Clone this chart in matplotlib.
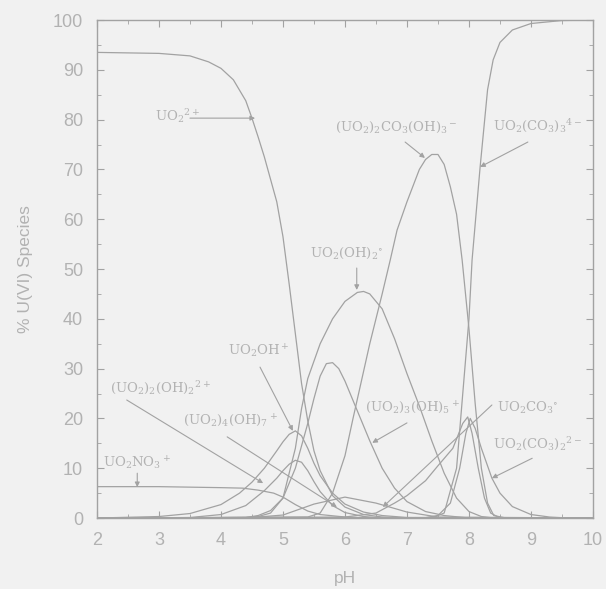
import numpy as np
import matplotlib.pyplot as plt
from matplotlib.ticker import MultipleLocator

# uranyl speciation vs pH, values in % of total U(VI)
ph_uo2 = [2.0, 3.0, 3.5, 3.8, 4.0, 4.2, 4.4, 4.5, 4.6, 4.7, 4.8, 4.9, 5.0, 5.1, 5.2, 5.3, 5.4, 5.5, 5.6, 5.8, 6.0, 6.3, 6.6, 7.0, 10.0]
uo2 = [93.5, 93.3, 92.8, 91.6, 90.3, 88.0, 83.8, 80.3, 76.5, 72.5, 68.0, 63.5, 56.5, 47.0, 37.0, 27.0, 19.5, 13.5, 9.5, 4.5, 2.2, 0.7, 0.2, 0.0, 0.0]

ph_no3 = [2.0, 3.0, 4.0, 4.35, 4.6, 4.85, 5.0, 5.2, 5.4, 5.6, 6.0, 6.5, 10.0]
uo2no3 = [6.3, 6.3, 6.1, 6.0, 5.6, 5.0, 4.2, 2.7, 1.4, 0.7, 0.2, 0.0, 0.0]

ph_oh = [2.0, 3.0, 3.5, 4.0, 4.3, 4.5, 4.7, 4.9, 5.0, 5.1, 5.2, 5.3, 5.4, 5.5, 5.6, 5.8, 6.0, 6.3, 6.6, 7.0, 10.0]
uo2oh = [0.0, 0.3, 0.9, 2.7, 5.0, 7.2, 10.0, 13.5, 15.3, 16.8, 17.5, 16.5, 14.0, 11.0, 8.5, 5.0, 2.8, 1.2, 0.5, 0.1, 0.0]

ph_22 = [2.0, 3.5, 4.0, 4.4, 4.7, 4.9, 5.0, 5.1, 5.2, 5.3, 5.4, 5.5, 5.6, 5.8, 6.0, 6.3, 6.6, 10.0]
uo2_2oh2 = [0.0, 0.1, 0.7, 2.5, 5.5, 8.0, 9.5, 10.8, 11.6, 11.2, 9.5, 7.3, 5.3, 2.5, 1.1, 0.3, 0.0, 0.0]

ph_35 = [2.0, 4.4, 4.6, 4.8, 5.0, 5.2, 5.4, 5.5, 5.6, 5.7, 5.8, 5.9, 6.0, 6.2, 6.4, 6.6, 6.8, 7.0, 7.3, 7.6, 8.0, 10.0]
uo2_3oh5 = [0.0, 0.1, 0.5, 1.5, 4.0, 10.0, 19.0, 24.0, 28.5, 31.0, 31.2, 30.0, 27.5, 21.5, 15.5, 10.0, 6.0, 3.3, 1.3, 0.5, 0.0, 0.0]

ph_47 = [2.0, 4.5, 5.0, 5.5, 6.0, 6.5, 7.0, 7.5, 10.0]
uo2_4oh7 = [0.0, 0.1, 0.6, 2.8, 4.2, 3.0, 1.2, 0.2, 0.0]

ph_oh2 = [2.0, 4.4, 4.6, 4.8, 5.0, 5.2, 5.3, 5.4, 5.6, 5.8, 6.0, 6.2, 6.3, 6.4, 6.6, 6.8, 7.0, 7.2, 7.4, 7.6, 7.8, 8.0, 8.2, 8.4, 10.0]
uo2oh2 = [0.0, 0.1, 0.3, 1.0, 4.0, 14.0, 22.0, 28.0, 35.0, 40.0, 43.5, 45.3, 45.5, 45.0, 42.0, 36.0, 29.0, 22.5, 15.5, 9.0, 4.0, 1.3, 0.3, 0.0, 0.0]

ph_co3oh = [2.0, 5.4, 5.6, 5.8, 6.0, 6.13, 6.4, 6.6, 6.73, 6.84, 7.0, 7.2, 7.3, 7.4, 7.5, 7.6, 7.7, 7.8, 7.89, 8.0, 8.1, 8.2, 8.3, 8.4, 8.6, 10.0]
uo2_2co3oh3 = [0.0, 0.2, 1.0, 5.0, 12.5, 20.0, 35.0, 45.0, 51.8, 57.8, 63.5, 70.0, 72.0, 73.0, 73.0, 71.0, 66.5, 61.0, 51.8, 38.0, 23.0, 10.0, 3.0, 0.5, 0.0, 0.0]

ph_co3 = [2.0, 6.0, 6.5, 6.8, 7.0, 7.3, 7.5, 7.74, 7.9, 7.98, 8.05, 8.15, 8.25, 8.35, 8.5, 10.0]
uo2co3 = [0.0, 0.2, 1.0, 3.0, 4.5, 7.5, 10.5, 14.0, 19.0, 20.3, 17.0, 10.0, 4.0, 1.0, 0.0, 0.0]

ph_co32 = [2.0, 7.3, 7.5, 7.7, 7.85, 7.95, 8.02, 8.1, 8.2, 8.37, 8.5, 8.7, 9.0, 9.3, 9.6, 10.0]
uo2co3_2 = [0.0, 0.1, 0.5, 3.0, 10.0, 17.0, 20.0, 18.0, 14.0, 8.0, 5.0, 2.3, 0.7, 0.2, 0.0, 0.0]

ph_co33 = [2.0, 7.4, 7.6, 7.8, 7.9, 8.0, 8.05, 8.18, 8.3, 8.39, 8.5, 8.7, 9.0, 9.5, 10.0]
uo2co3_3 = [0.0, 0.0, 1.0, 10.0, 25.0, 40.0, 51.8, 70.5, 86.0, 92.0, 95.5, 98.0, 99.3, 99.9, 100.0]

curves = [(ph_uo2, uo2), (ph_no3, uo2no3), (ph_oh, uo2oh), (ph_22, uo2_2oh2),
          (ph_35, uo2_3oh5), (ph_47, uo2_4oh7), (ph_oh2, uo2oh2),
          (ph_co3oh, uo2_2co3oh3), (ph_co3, uo2co3), (ph_co32, uo2co3_2),
          (ph_co33, uo2co3_3)]

# label text, text position (left, centre), arrow tail, arrow tip
labels = [
    (r'UO$_2$$^{2+}$', (2.94, 80.7), (3.50, 80.3), (4.55, 80.3)),
    (r'(UO$_2$)$_2$CO$_3$(OH)$_3$$^-$', (5.84, 78.5), (6.97, 75.5), (7.29, 72.3)),
    (r'UO$_2$(CO$_3$)$_3$$^{4-}$', (8.39, 78.7), (8.95, 75.5), (8.18, 70.5)),
    (r'UO$_2$(OH)$_2$$^{\circ}$', (5.44, 53.2), (6.19, 50.2), (6.19, 45.8)),
    (r'UO$_2$OH$^+$', (4.11, 33.5), (4.63, 30.3), (5.16, 17.5)),
    (r'(UO$_2$)$_2$(OH)$_2$$^{2+}$', (2.21, 26.1), (2.48, 23.7), (4.68, 7.0)),
    (r'(UO$_2$)$_4$(OH)$_7$$^+$', (3.39, 19.5), (4.10, 16.3), (5.87, 2.2)),
    (r'UO$_2$NO$_3$$^+$', (2.10, 11.0), (2.65, 9.0), (2.65, 6.2)),
    (r'(UO$_2$)$_3$(OH)$_5$$^+$', (6.32, 22.1), (7.00, 19.1), (6.44, 15.1)),
    (r'UO$_2$CO$_3$$^{\circ}$', (8.45, 22.1), (8.37, 22.7), (6.61, 2.2)),
    (r'UO$_2$(CO$_3$)$_2$$^{2-}$', (8.39, 14.7), (9.02, 12.0), (8.37, 8.0)),
]

ink = '#a2a2a2'
txt = '#b2b2b2'
bg = '#f1f1f1'

plt.rcParams['mathtext.fontset'] = 'dejavuserif'

fig = plt.figure(figsize=(6.06, 5.89), dpi=100, facecolor=bg)
ax = fig.add_axes([0.160, 0.1205, 0.8185, 0.8455], facecolor=bg)

for x, y in curves:
    ax.plot(x, y, color=ink, lw=0.9)

for text, tpos, tail, tip in labels:
    ax.text(tpos[0], tpos[1], text, color=txt, fontsize=9.5, family='DejaVu Serif',
            ha='left', va='center')
    ax.annotate('', xy=tip, xytext=tail,
                arrowprops=dict(arrowstyle='-|>', color=ink, lw=0.8,
                                mutation_scale=7, shrinkA=0, shrinkB=0))

ax.set_xlim(2, 10)
ax.set_ylim(0, 100)
ax.xaxis.set_major_locator(MultipleLocator(1))
ax.yaxis.set_major_locator(MultipleLocator(10))
ax.xaxis.set_minor_locator(MultipleLocator(0.5))
ax.yaxis.set_minor_locator(MultipleLocator(5))
ax.tick_params(which='both', direction='in', top=True, right=True, colors=ink,
               labelcolor=txt, labelsize=13, pad=10)
ax.tick_params(which='major', length=5, width=0.8)
ax.tick_params(which='minor', length=3, width=0.6)
for lab in ax.get_xticklabels() + ax.get_yticklabels():
    lab.set_family('Liberation Sans')
for s in ax.spines.values():
    s.set_color(ink)
    s.set_linewidth(1.0)

ax.set_xlabel('pH', color=txt, fontsize=12.5, family='Liberation Sans', labelpad=16)
ax.set_ylabel('% U(VI) Species', color=txt, fontsize=12.5, family='Liberation Sans', labelpad=14)

fig.savefig('out.png', dpi=100, facecolor=bg)
